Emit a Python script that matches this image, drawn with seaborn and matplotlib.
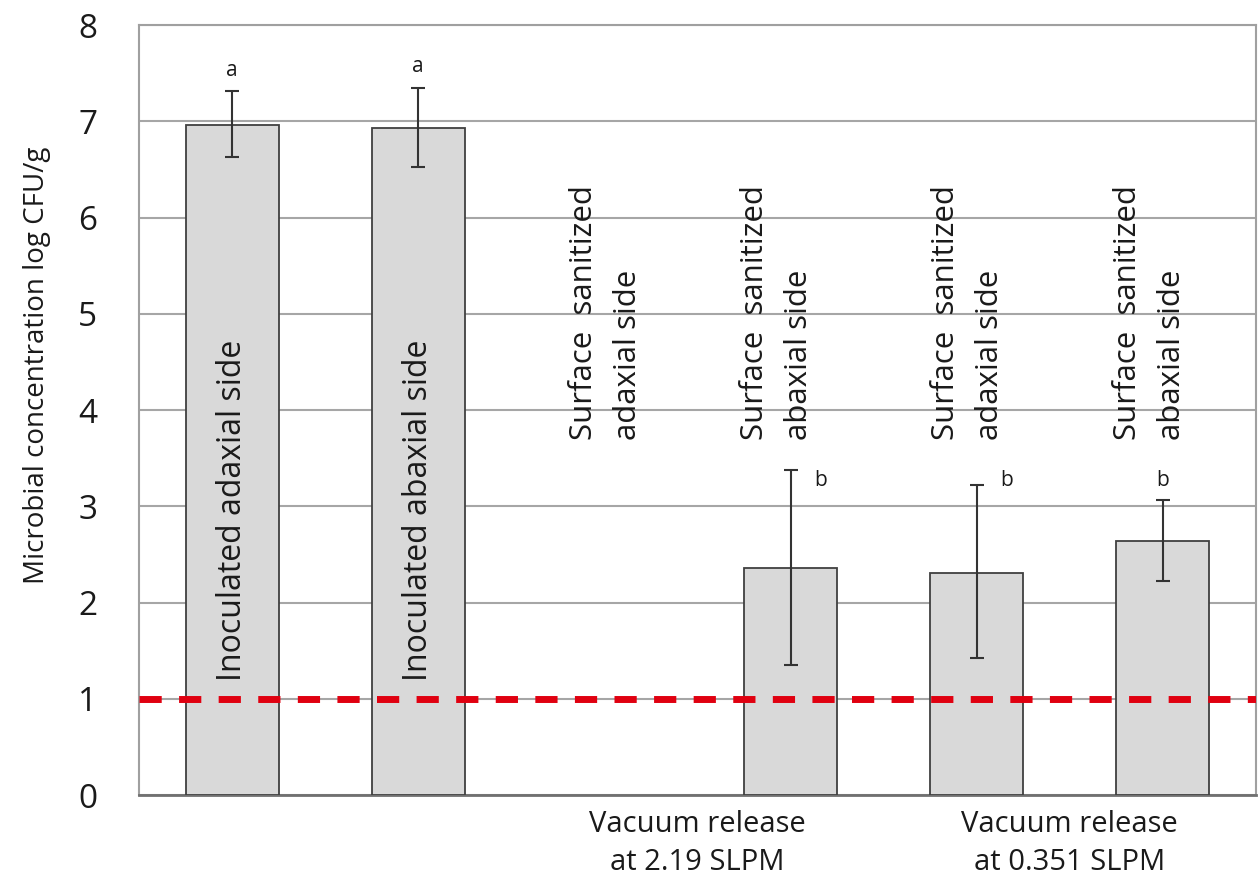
import numpy as np
import pandas as pd
import matplotlib
matplotlib.use("Agg")
import matplotlib.pyplot as plt
import seaborn as sns

# ---- data ----
categories = ["Inoculated adaxial side", "Inoculated abaxial side",
              "Surface  sanitized\nadaxial side", "Surface  sanitized\nabaxial side",
              "Surface  sanitized\nadaxial side ", "Surface  sanitized\nabaxial side "]
means = [6.96, 6.93, np.nan, 2.36, 2.31, 2.64]
err_low = [0.33, 0.41, np.nan, 1.01, 0.89, 0.42]
err_high = [0.35, 0.42, np.nan, 1.02, 0.91, 0.43]
letters = ["a", "a", "", "b", "b", "b"]
group_labels = ["Vacuum release\nat 2.19 SLPM", "Vacuum release\nat 0.351 SLPM"]
yticks = [0, 1, 2, 3, 4, 5, 6, 7, 8]
detection_limit = 1.0
ylabel = "Microbial concentration log CFU/g"

sns.set_theme(style="white")
plt.rcParams["font.family"] = ["Open Sans", "DejaVu Sans"]

TXT = "#1a1a1a"
fig = plt.figure(figsize=(12.59, 8.85), dpi=100)
ax = fig.add_axes([139 / 1259, (885 - 795) / 885, (1256 - 139) / 1259, (795 - 25) / 885])

df = pd.DataFrame({"cat": categories, "val": means})
sns.barplot(data=df, x="cat", y="val", order=categories, ax=ax, color="#d9d9d9",
            saturation=1, width=0.5, edgecolor="#404040", linewidth=1.3,
            errorbar=None, zorder=3)

xs = np.arange(len(categories))
ax.errorbar(xs, means, yerr=[err_low, err_high], fmt="none", ecolor="#333333",
            elinewidth=1.5, capsize=5, capthick=1.5, zorder=4)

ax.axhline(detection_limit, color="#e00010", lw=5, ls=(0, (3.2, 2.5)), zorder=5)

ax.set_ylim(0, 8)
ax.set_xlim(-0.5, len(categories) - 0.5)
ax.set_yticks(yticks)
ax.set_yticklabels([str(t) for t in yticks], fontsize=24)
ax.tick_params(axis="y", pad=30, length=0, colors=TXT)
ax.yaxis.grid(True, color="#a6a6a6", lw=1.5, zorder=0)
ax.set_axisbelow(True)
ax.set_ylabel(ylabel, fontsize=20, color=TXT)
ax.yaxis.set_label_coords(-0.079, 0.558)

# group labels on x axis
ax.set_xticks([2.5, 4.5])
ax.set_xticklabels(group_labels, fontsize=21, color=TXT, linespacing=1.4)
ax.tick_params(axis="x", length=0, pad=11)
ax.set_xlabel("")

for side in ["left", "top", "right"]:
    ax.spines[side].set_color("#a0a0a0")
    ax.spines[side].set_linewidth(1.5)
ax.spines["bottom"].set_color("#707070")
ax.spines["bottom"].set_linewidth(2)

# bar labels
label_offsets = [0.0, 0.0, 0.01, -0.075, -0.045, -0.07]
for i, lab in enumerate(categories):
    if i < 2:
        ax.text(xs[i], 2.96, lab, rotation=90, ha="center", va="center",
                fontsize=23, color=TXT, zorder=6)
    else:
        ax.text(xs[i] + label_offsets[i], 3.69, lab.strip(), rotation=90,
                ha="center", va="bottom", fontsize=22.5, color=TXT,
                multialignment="left", linespacing=1.6, zorder=6)

# significance letters
for i, l in enumerate(letters):
    if not l:
        continue
    if i < 2:
        ax.text(xs[i], means[i] + err_high[i] + 0.22, l, ha="center", va="center",
                fontsize=15, color=TXT)
    elif i == 5:
        ax.text(xs[i], 3.27, l, ha="center", va="center", fontsize=15, color=TXT)
    else:
        ax.text(xs[i] + 0.16, 3.27, l, ha="center", va="center", fontsize=15, color=TXT)

fig.savefig("out.png", dpi=100)
